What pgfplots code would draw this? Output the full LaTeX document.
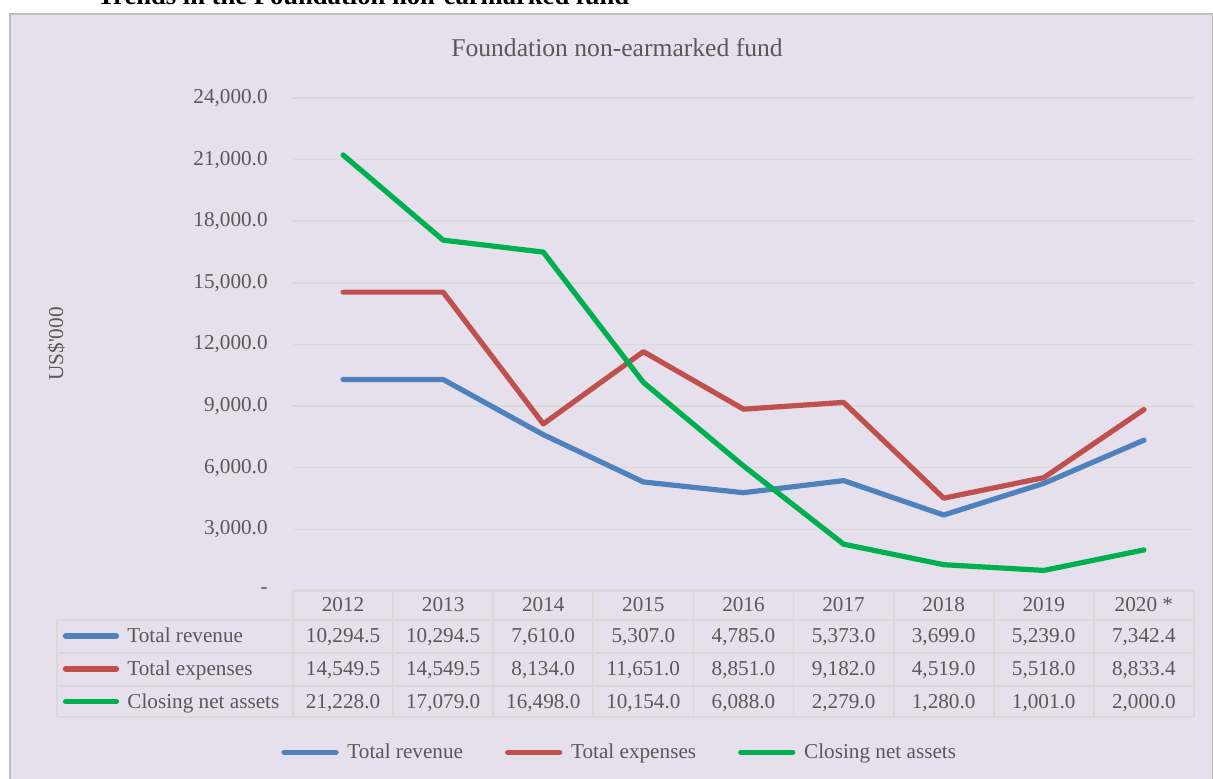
\documentclass[border=0pt]{standalone}
\usepackage{pgfplots}
\pgfplotsset{compat=1.18}
\usepackage{fontspec}
\setmainfont{Liberation Serif}

\definecolor{bg}{HTML}{E5E0EC}
\definecolor{boxgray}{HTML}{BFBFBF}
\definecolor{gridgray}{HTML}{D9D9D9}
\definecolor{tgray}{HTML}{595959}
\definecolor{revblue}{HTML}{4F81BD}
\definecolor{expred}{HTML}{C0504D}
\definecolor{netgreen}{HTML}{00B050}

\newcommand\tf{\fontsize{10.6pt}{12.7pt}\selectfont}

\begin{document}
\begin{tikzpicture}
\useasboundingbox (0,0) rectangle (606.5pt,389.5pt);
\clip (0,0) rectangle (606.5pt,389.5pt);

% background, titles and the data table (pixel coordinates, y downwards)
\begin{scope}[x=0.5pt,y=-0.5pt,yshift=389.5pt]
\fill[white] (0,0) rectangle (1213,779);
\draw[fill=bg, draw=boxgray, line width=0.75pt] (10,14) rectangle (1212.5,800);
\node[anchor=base west, inner sep=0pt, font=\fontsize{13.3pt}{16pt}\selectfont\bfseries]
  at (97,5) {Trends in the Foundation non-earmarked fund};
\node[anchor=base, inner sep=0pt, text=tgray, font=\fontsize{12.8pt}{15pt}\selectfont]
  at (617,57) {Foundation non-earmarked fund};
\node[anchor=base, rotate=90, inner sep=0pt, text=tgray, font=\tf]
  at (63,344) {US\$\textquotesingle000};

% table grid
\begin{scope}[draw=gridgray, line width=0.9pt]
\draw (293,590) -- (1194,590);
\foreach \y in {620,653,686,717} \draw (57,\y) -- (1194,\y);
\draw (57,620) -- (57,717);
\foreach \i in {0,...,9} \draw ({293+100.1*\i},590) -- ({293+100.1*\i},717);
\end{scope}

% row keys
\foreach \c/\y/\t in {revblue/636/Total revenue, expred/669/Total expenses, netgreen/701.5/Closing net assets}{
  \draw[\c, line width=2.6pt, line cap=round] (65.5,\y) -- (116.5,\y);
  \node[anchor=base west, inner sep=0pt, text=tgray, font=\tf] at (127,\y+7) {\t};
}

% header and values
\foreach \v [count=\i from 0] in {2012,2013,2014,2015,2016,2017,2018,2019,2020 *}
  \node[anchor=base, inner sep=0pt, text=tgray, font=\tf] at ({343.05+100.1*\i},612) {\v};
\foreach \v [count=\i from 0] in {{10,294.5},{10,294.5},{7,610.0},{5,307.0},{4,785.0},{5,373.0},{3,699.0},{5,239.0},{7,342.4}}
  \node[anchor=base, inner sep=0pt, text=tgray, font=\tf] at ({343.05+100.1*\i},643) {\v};
\foreach \v [count=\i from 0] in {{14,549.5},{14,549.5},{8,134.0},{11,651.0},{8,851.0},{9,182.0},{4,519.0},{5,518.0},{8,833.4}}
  \node[anchor=base, inner sep=0pt, text=tgray, font=\tf] at ({343.05+100.1*\i},676) {\v};
\foreach \v [count=\i from 0] in {{21,228.0},{17,079.0},{16,498.0},{10,154.0},{6,088.0},{2,279.0},{1,280.0},{1,001.0},{2,000.0}}
  \node[anchor=base, inner sep=0pt, text=tgray, font=\tf] at ({343.05+100.1*\i},708.5) {\v};
\end{scope}

\begin{axis}[
    at={(146.5pt,94pt)}, anchor=south west,
    scale only axis, width=450.5pt, height=246.5pt,
    xmin=-0.5, xmax=8.5, ymin=0, ymax=24000,
    axis line style={draw=none},
    xtick=\empty,
    scaled y ticks=false,
    ytick={0,3000,6000,9000,12000,15000,18000,21000,24000},
    yticklabels={{-\hspace{5pt}},{3,000.0},{6,000.0},{9,000.0},{12,000.0},{15,000.0},{18,000.0},{21,000.0},{24,000.0}},
    yticklabel style={font=\tf, text=tgray, inner sep=0pt, xshift=-12.5pt},
    major tick length=0pt,
    ymajorgrids, grid style={gridgray, line width=0.75pt},
    clip=false,
    legend columns=-1,
    legend image code/.code={\draw[#1] (0pt,0pt) -- (26pt,0pt);},
    legend style={at={(-0.0133,-0.327)}, anchor=west, draw=none, fill=none,
      inner sep=0pt, font=\tf, text=tgray,
      nodes={inner sep=0pt},
      /tikz/every even column/.append style={column sep=21pt},
      /tikz/every odd column/.append style={column sep=4.4pt}},
    every axis plot/.append style={line width=2.6pt, line join=round, line cap=round},
]
\addplot[revblue] coordinates {(0,10294.5) (1,10294.5) (2,7610.0) (3,5307.0) (4,4785.0) (5,5373.0) (6,3699.0) (7,5239.0) (8,7342.4)};
\addplot[expred] coordinates {(0,14549.5) (1,14549.5) (2,8134.0) (3,11651.0) (4,8851.0) (5,9182.0) (6,4519.0) (7,5518.0) (8,8833.4)};
\addplot[netgreen] coordinates {(0,21228.0) (1,17079.0) (2,16498.0) (3,10154.0) (4,6088.0) (5,2279.0) (6,1280.0) (7,1001.0) (8,2000.0)};
\legend{Total revenue, Total expenses, Closing net assets}
\end{axis}
\end{tikzpicture}
\end{document}
